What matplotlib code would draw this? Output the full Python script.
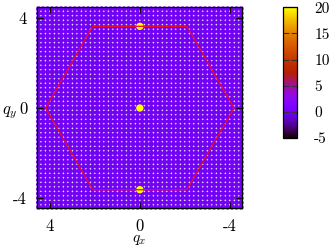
import numpy as np
import matplotlib
matplotlib.use("Agg")
import matplotlib.pyplot as plt

plt.rcParams['font.family'] = 'cmr10'
plt.rcParams['mathtext.fontset'] = 'cm'
plt.rcParams['axes.unicode_minus'] = False

# momentum grid (background, value ~0 everywhere)
grid_qx = np.arange(-4.5, 4.51, 0.2)
grid_qy = np.arange(-4.4, 4.41, 0.2)
background_value = 0.0

# bright peaks
peak_qx = [0.0, 0.0, 0.0]
peak_qy = [3.628, 0.0, -3.628]
peak_val = [20.0, 20.0, 20.0]

# Brillouin zone hexagon
hex_qx = [4.189, 2.094, -2.094, -4.189, -2.094, 2.094, 4.189]
hex_qy = [0.0, 3.628, 3.628, 0.0, -3.628, -3.628, 0.0]

ticks = [4, 0, -4]
cbar_ticks = [-5, 0, 5, 10, 15, 20]

fig = plt.figure(figsize=(3.32, 2.47), dpi=100)
ax = fig.add_axes([0.111, 0.158, 0.617, 0.814])
cax = fig.add_axes([0.852, 0.441, 0.042, 0.530])

gx, gy = np.meshgrid(grid_qx, grid_qy)
gv = np.full(gx.shape, background_value)
sc = ax.scatter(gx.ravel(), gy.ravel(), c=gv.ravel(), cmap='gnuplot',
                vmin=-5, vmax=20, s=14, linewidths=0, clip_on=False, zorder=1)
ax.scatter(peak_qx, peak_qy, c=peak_val, cmap='gnuplot', vmin=-5, vmax=20,
           s=28, linewidths=0, zorder=2)
ax.plot(hex_qx, hex_qy, color='#ee0a1e', lw=0.9, zorder=3)

ax.set_xlim(4.58, -4.53)
ax.set_ylim(-4.44, 4.49)
ax.set_xticks(ticks)
ax.set_yticks(ticks)
ax.set_xticklabels([str(t) for t in ticks], fontsize=12)
ax.set_yticklabels([str(t) for t in ticks], fontsize=12)
ax.tick_params(direction='in', top=True, right=True, length=4.5, width=0.8)
ax.tick_params(axis='x', pad=8)
ax.tick_params(axis='y', pad=7)
for sp in ax.spines.values():
    sp.set_linewidth(0.9)
    sp.set_zorder(4)

ax.set_xlabel('$q_x$', fontsize=11)
ax.xaxis.set_label_coords(0.5, -0.125)
ax.set_ylabel('$q_y$', fontsize=12, rotation=0, va='center')
ax.yaxis.set_label_coords(-0.135, 0.475)

cb = fig.colorbar(sc, cax=cax, ticks=cbar_ticks)
cb.ax.set_yticklabels([str(t) for t in cbar_ticks], fontsize=11)
cb.ax.tick_params(direction='in', left=True, right=True, length=4, width=0.8,
                  color='#333333', pad=12.5)
cb.outline.set_linewidth(0.9)

fig.savefig('out.png', dpi=100)
